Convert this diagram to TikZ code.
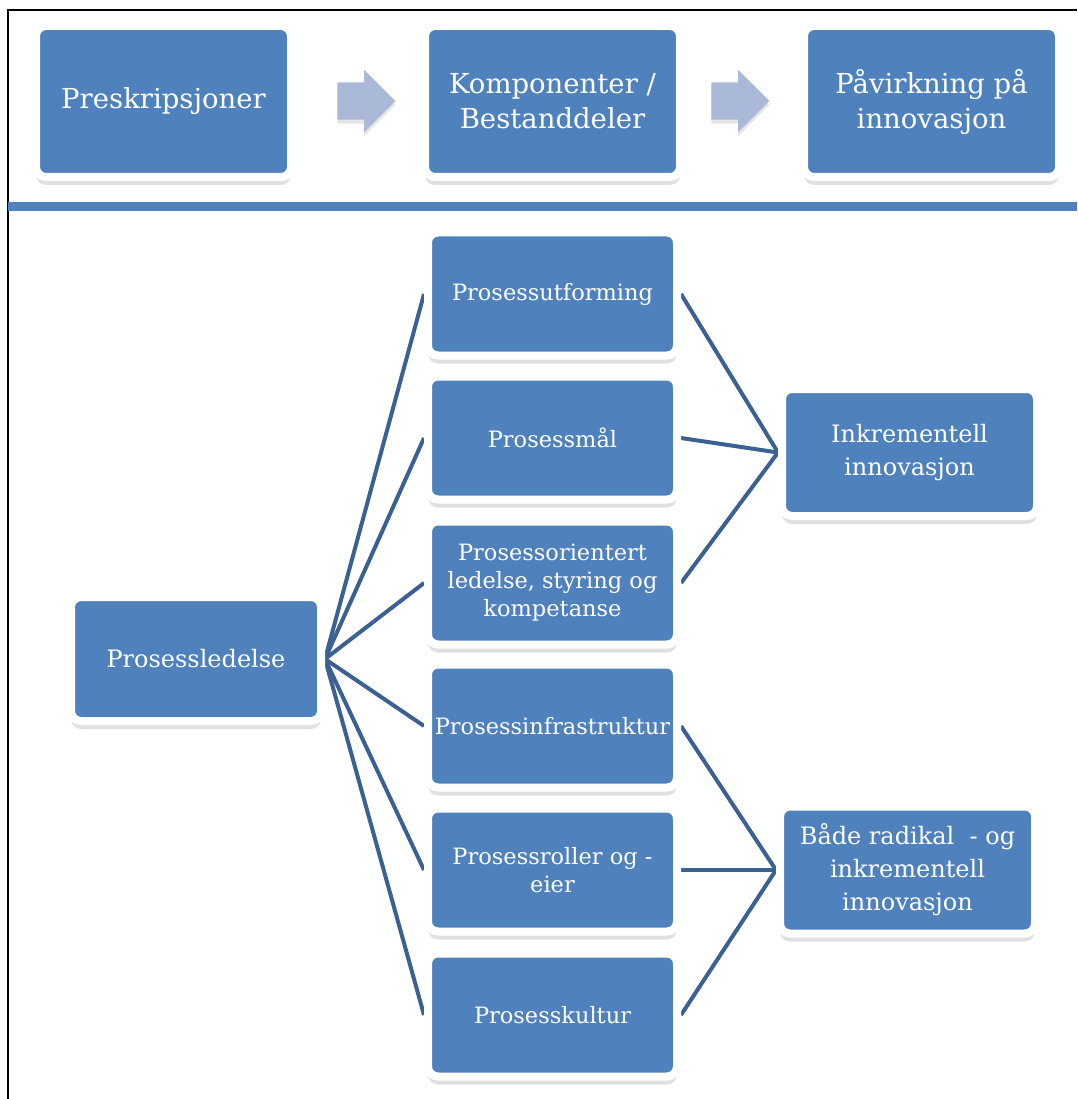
\documentclass[tikz,border=0pt]{standalone}
\usepackage{fontspec}
\setmainfont{DejaVu Serif}
\usepackage{tikz}
\usetikzlibrary{positioning,shapes,shadows,arrows,calc}
\pgfdeclarelayer{background}
\pgfdeclarelayer{foreground}
\pgfsetlayers{background,main,foreground}
\definecolor{boxblue}{HTML}{4F81BD}
\definecolor{lineblue}{HTML}{3A6192}
\definecolor{arrowgray}{HTML}{AAB9D7}

\begin{document}
\begin{tikzpicture}[x=1pt, y=-1pt,
    box/.style={draw=white, line width=8pt, fill=boxblue, rounded corners=10pt, text=white, align=center, inner sep=0pt,
        drop shadow={shadow xshift=0pt, shadow yshift=-8pt, fill=black!40, opacity=0.3}},
    topbox/.style={box, minimum width=255pt, minimum height=151pt, font=\fontsize{27.5}{35}\selectfont},
    midbox/.style={box, minimum width=249pt, minimum height=123pt, font=\fontsize{22.5}{28}\selectfont},
    sidebox/.style={box, minimum width=255pt, minimum height=127pt, font=\fontsize{24}{33}\selectfont},
    link/.style={draw=lineblue, line width=4pt},
    chevron/.style={single arrow, fill=arrowgray, minimum height=58pt, minimum width=62pt, single arrow head extend=12.5pt, inner sep=0pt,
        drop shadow={shadow xshift=0pt, shadow yshift=-4pt, fill=black!40, opacity=0.25}}]
		\useasboundingbox (0,0) rectangle (1077,1099);
		\draw[line width=1.5pt] (8,1099) -- (8,10) -- (1077,10);
		\draw[boxblue, line width=9pt] (8,207) -- (1077,207);
		\node[topbox] (presk) at (163.5,101.5) {Preskripsjoner};
		\node[topbox] (komp) at (552.5,101.5) {Komponenter /\\Bestanddeler};
		\node[topbox] (paav) at (931.5,101.5) {Påvirkning på\\innovasjon};
		\node[chevron] (arr1) at (357,101) {\rule{0pt}{37pt}};
		\node[chevron] (arr2) at (731,101) {\rule{0pt}{37pt}};
		\node[sidebox, minimum width=250pt, minimum height=124pt] (lead) at (196,659) {Prosessledelse};
		\node[midbox] (m1) at (552.5,294) {Prosessutforming};
		\node[midbox] (m2) at (552.5,438) {Prosessmål};
		\node[midbox] (m3) at (552.5,583) {Prosessorientert\\ledelse, styring og\\kompetanse};
		\node[midbox] (m4) at (552.5,726) {Prosessinfrastruktur};
		\node[midbox] (m5) at (552.5,870) {Prosessroller og -\\eier};
		\node[midbox] (m6) at (552.5,1015) {Prosesskultur};
		\node[sidebox] (inc) at (909.5,452.5) {Inkrementell\\innovasjon};
		\node[sidebox] (both) at (907.5,870) {Både radikal\ \ - og\\inkrementell\\innovasjon};
		\begin{pgfonlayer}{background}
		\foreach \i in {1,...,6}
			\draw[link] (lead.east) -- (m\i.west);
		\foreach \i in {1,2,3}
			\draw[link] (m\i.east) -- (inc.west);
		\foreach \i in {4,5,6}
			\draw[link] (m\i.east) -- (both.west);
		\end{pgfonlayer}
\end{tikzpicture}
\end{document}
